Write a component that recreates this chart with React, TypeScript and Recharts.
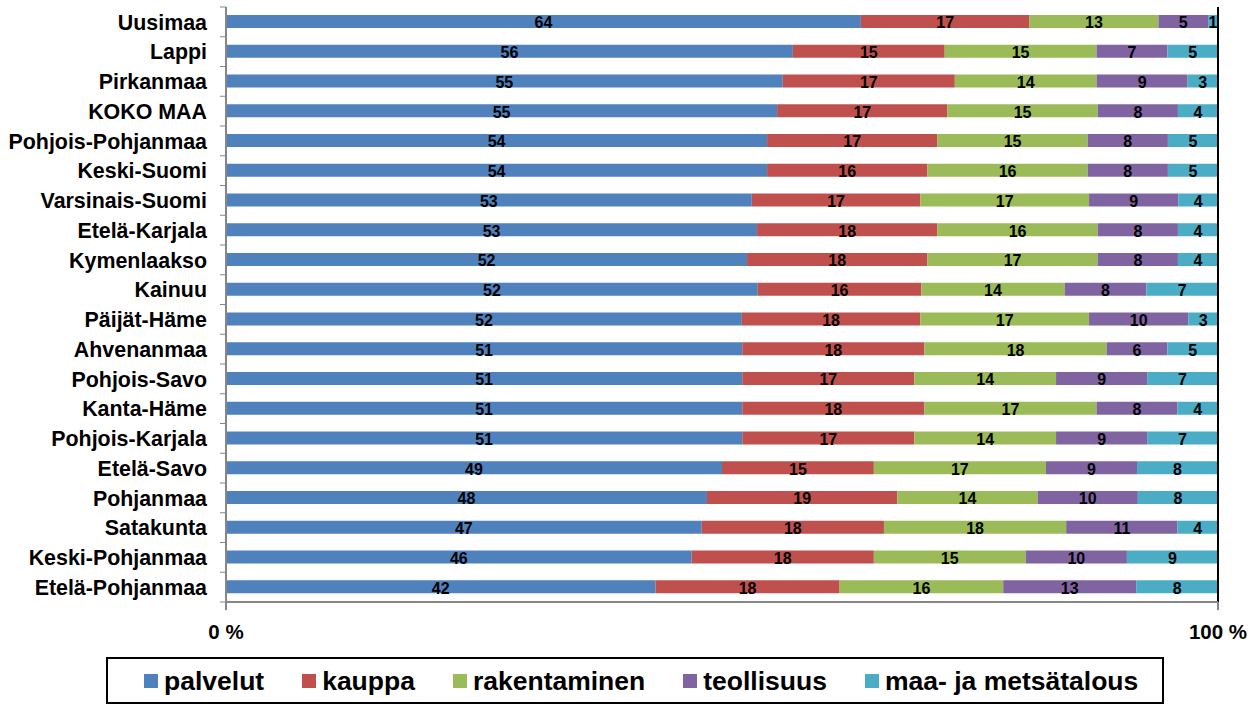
import React from "react";
import { BarChart, Bar, XAxis, YAxis, LabelList, ReferenceLine } from "recharts";

const regions = [
  "Uusimaa", "Lappi", "Pirkanmaa", "KOKO MAA", "Pohjois-Pohjanmaa", "Keski-Suomi",
  "Varsinais-Suomi", "Etelä-Karjala", "Kymenlaakso", "Kainuu", "Päijät-Häme",
  "Ahvenanmaa", "Pohjois-Savo", "Kanta-Häme", "Pohjois-Karjala", "Etelä-Savo",
  "Pohjanmaa", "Satakunta", "Keski-Pohjanmaa", "Etelä-Pohjanmaa",
];

const palvelut = [64, 56, 55, 55, 54, 54, 53, 53, 52, 52, 52, 51, 51, 51, 51, 49, 48, 47, 46, 42];
const kauppa = [17, 15, 17, 17, 17, 16, 17, 18, 18, 16, 18, 18, 17, 18, 17, 15, 19, 18, 18, 18];
const rakentaminen = [13, 15, 14, 15, 15, 16, 17, 16, 17, 14, 17, 18, 14, 17, 14, 17, 14, 18, 15, 16];
const teollisuus = [5, 7, 9, 8, 8, 8, 9, 8, 8, 8, 10, 6, 9, 8, 9, 9, 10, 11, 10, 13];
const maametsa = [1, 5, 3, 4, 5, 5, 4, 4, 4, 7, 3, 5, 7, 4, 7, 8, 8, 4, 9, 8];

const series = [
  { key: "palvelut", name: "palvelut", color: "#4F81BD", values: palvelut },
  { key: "kauppa", name: "kauppa", color: "#C0504D", values: kauppa },
  { key: "rakentaminen", name: "rakentaminen", color: "#9BBB59", values: rakentaminen },
  { key: "teollisuus", name: "teollisuus", color: "#8064A2", values: teollisuus },
  { key: "maametsa", name: "maa- ja metsätalous", color: "#4BACC6", values: maametsa },
];

const data = regions.map((name, i) => {
  const row: Record<string, string | number> = { name };
  series.forEach((s) => (row[s.key] = s.values[i]));
  return row;
});

const FONT = "'Liberation Sans', Arial, sans-serif";
const PLOT_TOP = 7;
const PLOT_BOTTOM = 602;
const BAND = (PLOT_BOTTOM - PLOT_TOP) / regions.length;
const AXIS_GRAY = "#868686";

const RegionTick = (props: any) => {
  const { x, y, payload, index } = props;
  const axisX = x + 19;
  return (
    <g>
      <line x1={axisX - 6} x2={axisX} y1={y - BAND / 2} y2={y - BAND / 2} stroke={AXIS_GRAY} />
      {index === regions.length - 1 && (
        <line x1={axisX - 6} x2={axisX} y1={y + BAND / 2} y2={y + BAND / 2} stroke={AXIS_GRAY} />
      )}
      <text x={x} y={y} dy="0.36em" textAnchor="end" fontSize={21.4} fontWeight="bold" fill="#000" fontFamily={FONT}>
        {payload.value}
      </text>
    </g>
  );
};

const BarValue = (props: any) => {
  const { x, y, width, height, value } = props;
  return (
    <text
      x={Number(x) + Number(width) / 2}
      y={Number(y) + Number(height) / 2 + 1}
      dy="0.36em"
      textAnchor="middle"
      fontSize={16}
      fontWeight="bold"
      fill="#000"
      fontFamily={FONT}
    >
      {value}
    </text>
  );
};

export default function App() {
  return (
    <div style={{ position: "absolute", left: 0, top: 0, width: 1260, height: 706, background: "#fff", fontFamily: FONT }}>
      <BarChart
        width={1260}
        height={706}
        data={data}
        layout="vertical"
        stackOffset="expand"
        barSize={13}
        margin={{ top: PLOT_TOP, right: 42, bottom: 0, left: 0 }}
      >
        <XAxis
          type="number"
          domain={[0, 1]}
          ticks={[0, 1]}
          tickFormatter={(v: number) => `${Math.round(v * 100)} %`}
          height={104}
          axisLine={{ stroke: AXIS_GRAY, strokeWidth: 2 }}
          tickLine={{ stroke: AXIS_GRAY, strokeWidth: 2 }}
          tickSize={8}
          tickMargin={14}
          tick={{ fill: "#000", fontSize: 20.5, fontWeight: "bold", fontFamily: FONT }}
        />
        <XAxis
          xAxisId="top"
          type="number"
          orientation="top"
          domain={[0, 1]}
          height={0}
          tick={false}
          tickLine={false}
          axisLine={{ stroke: "#000", strokeWidth: 2 }}
        />
        <YAxis
          type="category"
          dataKey="name"
          width={226}
          tickSize={0}
          tickMargin={19}
          tickLine={false}
          interval={0}
          axisLine={{ stroke: AXIS_GRAY, strokeWidth: 2 }}
          tick={<RegionTick />}
        />
        {series.map((s) => (
          <Bar key={s.key} dataKey={s.key} name={s.name} stackId="a" fill={s.color} isAnimationActive={false}>
            <LabelList dataKey={s.key} content={<BarValue />} />
          </Bar>
        ))}
        <ReferenceLine x={1} stroke="#000" strokeWidth={2} />
      </BarChart>
      <div
        style={{
          position: "absolute",
          left: 106,
          top: 657,
          width: 1058,
          height: 47,
          boxSizing: "border-box",
          border: "2px solid #000",
          display: "flex",
          alignItems: "center",
          justifyContent: "flex-start",
          paddingLeft: 36,
          gap: 38,
        }}
      >
        {series.map((s) => (
          <div key={s.key} style={{ display: "flex", alignItems: "center", gap: 6 }}>
            <span style={{ display: "inline-block", width: 14, height: 14, background: s.color }} />
            <span style={{ fontSize: 26.5, fontWeight: "bold", color: "#000", lineHeight: "30px" }}>{s.name}</span>
          </div>
        ))}
      </div>
    </div>
  );
}
